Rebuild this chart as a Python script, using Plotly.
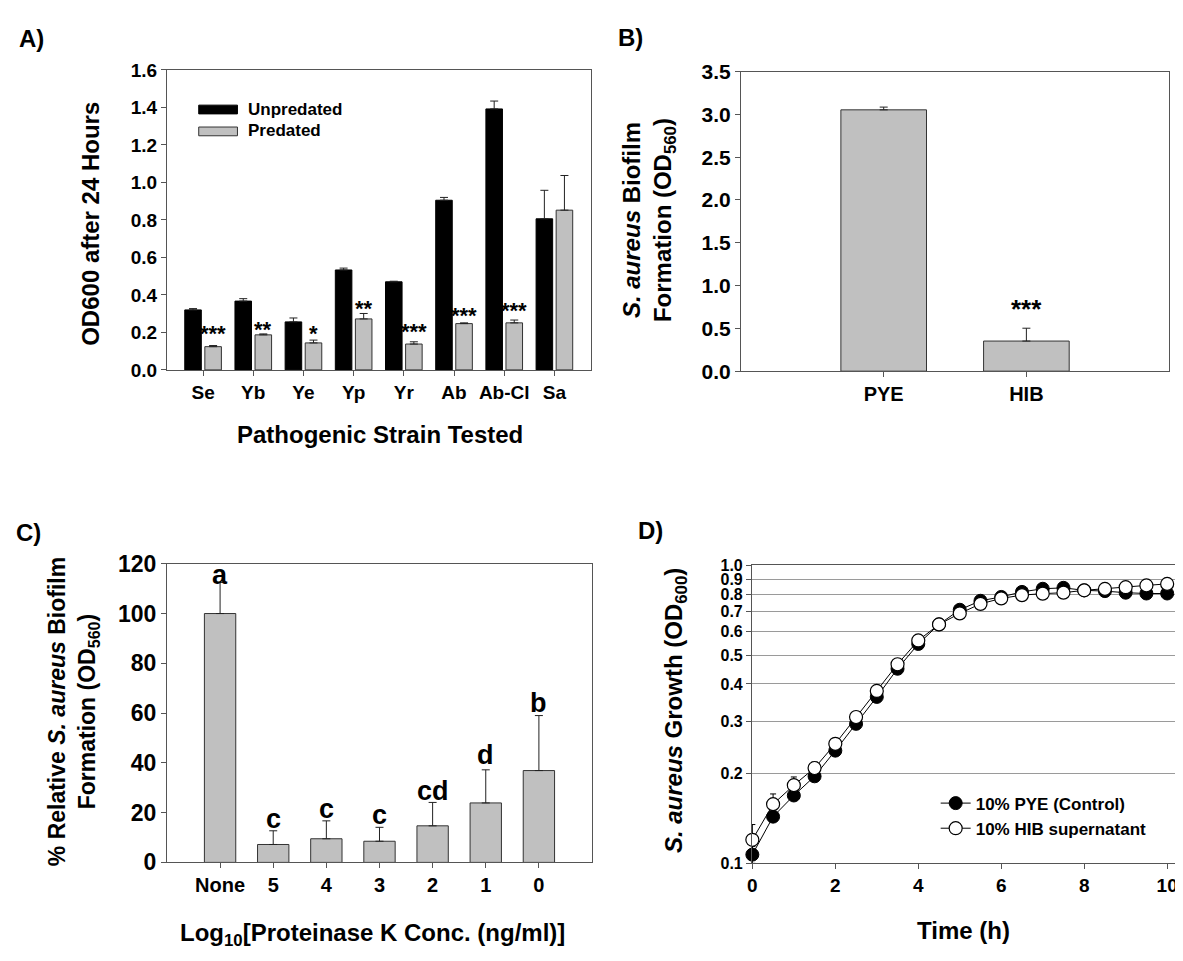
import plotly.graph_objects as go

# The page body has an 8px default margin, so the figure is drawn 8px in from the
# window's top-left corner; sizes and positions below are set in window pixels.
OFF = 8
W, H = 1183 - OFF, 961 - OFF
FONT = "Liberation Sans, Arial, Helvetica, sans-serif"
NARROW = "Liberation Sans Narrow, Arial Narrow, Liberation Sans, Arial, sans-serif"

# ---------------- Panel A data ----------------
strains = ["Se", "Yb", "Ye", "Yp", "Yr", "Ab", "Ab-Cl", "Sa"]
unpredated = [0.320, 0.367, 0.256, 0.533, 0.470, 0.905, 1.392, 0.806]
unpredated_err = [0.007, 0.013, 0.021, 0.010, 0.003, 0.015, 0.042, 0.152]
predated = [0.124, 0.187, 0.144, 0.272, 0.138, 0.247, 0.251, 0.852]
predated_err = [0.006, 0.005, 0.015, 0.029, 0.012, 0.004, 0.015, 0.185]
stars_a = ["***", "**", "*", "**", "***", "***", "***"]
stars_a_y = [0.216, 0.237, 0.216, 0.349, 0.228, 0.311, 0.337]

# ---------------- Panel B data ----------------
media = ["PYE", "HIB"]
biofilm_b = [3.053, 0.352]
biofilm_b_err = [0.032, 0.150]
stars_b = ["", "***"]
stars_b_y = [None, 0.79]

# ---------------- Panel C data ----------------
protk = ["None", "5", "4", "3", "2", "1", "0"]
rel_biofilm = [100.0, 7.2, 9.5, 8.5, 14.7, 23.9, 36.9]
rel_biofilm_err = [12.5, 5.5, 7.2, 5.6, 9.4, 13.3, 22.1]
letters_c = ["a", "c", "c", "c", "cd", "d", "b"]
letters_c_y = [115.4, 17.6, 21.5, 18.9, 28.7, 43.0, 63.9]

# ---------------- Panel D data ----------------
time_h = [0, 0.5, 1, 1.5, 2, 2.5, 3, 3.5, 4, 4.5, 5, 5.5, 6, 6.5, 7, 7.5, 8, 8.5, 9, 9.5, 10]
pye_od = [0.107, 0.1435, 0.169, 0.196, 0.239, 0.294, 0.362, 0.450, 0.545, 0.634, 0.710,
          0.761, 0.784, 0.815, 0.835, 0.841, 0.825, 0.820, 0.810, 0.805, 0.805]
pye_err = [0.007, 0.004, 0.004, 0.004, 0.004, 0.005, 0.005, 0.006, 0.006, 0.006, 0.006,
           0.006, 0.006, 0.006, 0.006, 0.006, 0.006, 0.006, 0.006, 0.006, 0.006]
hib_od = [0.120, 0.158, 0.183, 0.209, 0.252, 0.310, 0.379, 0.466, 0.560, 0.634, 0.690,
          0.743, 0.775, 0.795, 0.804, 0.810, 0.825, 0.834, 0.845, 0.857, 0.867]
hib_err = [0.015, 0.013, 0.012, 0.010, 0.006, 0.006, 0.006, 0.006, 0.006, 0.006, 0.006,
           0.006, 0.006, 0.006, 0.006, 0.006, 0.006, 0.006, 0.006, 0.006, 0.006]
d_ticks = [0.1, 0.2, 0.3, 0.4, 0.5, 0.6, 0.7, 0.8, 0.9, 1.0]
d_ticktext = ["0.1", "0.2", "0.3", "0.4", "0.5", "0.6", "0.7", "0.8", "0.9", "1.0"]

GREY = "#c0c0c0"
EDGE = "#333333"
AX = "#555555"


def px(xp):
    return (xp - OFF) / W


def py(yp):
    return 1 - (yp - OFF) / H


def bfont(size, family=FONT, color="black"):
    return dict(family=family, size=size, color=color, weight="bold")


fig = go.Figure()

# ---- Panel A bars ----
xa = list(range(len(strains)))
fig.add_trace(go.Bar(
    x=xa, y=unpredated, width=0.33, offset=-0.365,
    marker=dict(color="black", line=dict(color="black", width=1)),
    error_y=dict(type="data", array=unpredated_err, arrayminus=[0] * len(xa), symmetric=False,
                 color="#222", thickness=1, width=4),
    xaxis="x", yaxis="y", showlegend=False, name="Unpredated"))
fig.add_trace(go.Bar(
    x=xa, y=predated, width=0.33, offset=0.035,
    marker=dict(color=GREY, line=dict(color=EDGE, width=1)),
    error_y=dict(type="data", array=predated_err, arrayminus=[0] * len(xa), symmetric=False,
                 color="#222", thickness=1, width=4),
    xaxis="x", yaxis="y", showlegend=False, name="Predated"))

# ---- Panel B bars ----
xb = list(range(len(media)))
fig.add_trace(go.Bar(
    x=xb, y=biofilm_b, width=0.6,
    marker=dict(color=GREY, line=dict(color=EDGE, width=1)),
    error_y=dict(type="data", array=biofilm_b_err, arrayminus=[0] * len(xb), symmetric=False,
                 color="#222", thickness=1, width=4),
    xaxis="x2", yaxis="y2", showlegend=False))

# ---- Panel C bars ----
xc = list(range(len(protk)))
fig.add_trace(go.Bar(
    x=xc, y=rel_biofilm, width=0.59,
    marker=dict(color=GREY, line=dict(color=EDGE, width=1)),
    error_y=dict(type="data", array=rel_biofilm_err, arrayminus=[0] * len(xc), symmetric=False,
                 color="#222", thickness=1, width=4),
    xaxis="x3", yaxis="y3", showlegend=False))

# ---- Panel D growth curves ----
fig.add_trace(go.Scatter(
    x=time_h, y=pye_od, mode="lines+markers", name="10% PYE (Control)",
    line=dict(color="black", width=1),
    marker=dict(symbol="circle", size=13, color="black", line=dict(color="black", width=1)),
    error_y=dict(type="data", array=pye_err, color="black", thickness=1, width=3),
    xaxis="x4", yaxis="y4", cliponaxis=False))
fig.add_trace(go.Scatter(
    x=time_h, y=hib_od, mode="lines+markers", name="10% HIB supernatant",
    line=dict(color="black", width=1),
    marker=dict(symbol="circle", size=13, color="white", line=dict(color="black", width=1.2)),
    error_y=dict(type="data", array=hib_err, color="black", thickness=1, width=3),
    xaxis="x4", yaxis="y4", cliponaxis=False))

common = dict(showline=True, linecolor=AX, linewidth=1, mirror=True, ticks="outside",
              ticklen=5, tickcolor=AX, showgrid=False, zeroline=False)

fig.update_layout(
    width=W, height=H, margin=dict(l=0, r=0, t=0, b=0),
    paper_bgcolor="white", plot_bgcolor="white", barmode="overlay",
    font=dict(family=FONT, color="black"),
    xaxis=dict(domain=[px(163), px(590)], range=[-0.72, 7.73], tickvals=xa, ticktext=strains,
               tickfont=bfont(19), anchor="y", **common),
    yaxis=dict(domain=[py(366.7), py(58.3)], range=[0, 1.6], dtick=0.2, tickformat=".1f",
               tickfont=bfont(19), anchor="x", **common),
    xaxis2=dict(domain=[px(741), px(1172)], range=[-1, 2], tickvals=xb, ticktext=media,
                tickfont=bfont(20), anchor="y2", **common),
    yaxis2=dict(domain=[py(368), py(60)], range=[0, 3.5], dtick=0.5, tickformat=".1f",
                tickfont=bfont(21), anchor="x2", **common),
    xaxis3=dict(domain=[px(163), px(591)], range=[-1, 7], tickvals=xc, ticktext=protk,
                tickfont=bfont(20), anchor="y3", **common),
    yaxis3=dict(domain=[py(873), py(566)], range=[0, 120], dtick=20,
                tickfont=bfont(23), anchor="x3", **common),
    xaxis4=dict(domain=[px(752), px(1178)], range=[-0.01, 10.19], dtick=2,
                tickfont=bfont(19), anchor="y4", ticklabeloverflow="allow", **common),
    yaxis4=dict(domain=[py(874), py(567.7)], type="log", range=[-1, 0], tickvals=d_ticks,
                ticktext=d_ticktext, tickfont=bfont(16, NARROW), anchor="x4",
                showline=True, linecolor=AX, linewidth=1, mirror=True, ticks="outside",
                ticklen=5, tickcolor=AX, zeroline=False, showgrid=True,
                gridcolor="#9a9a9a", gridwidth=1),
    legend=dict(x=px(937), y=py(794), xanchor="left", yanchor="top",
                bgcolor="rgba(0,0,0,0)", font=bfont(17), tracegroupgap=0),
)

ann = []
# panel labels
for lab, xx, yy in [("A)", 12, 26), ("B)", 615, 25), ("C)", 9, 534), ("D)", 635, 532)]:
    ann.append(dict(text=lab, x=px(xx), y=py(yy), xref="paper", yref="paper",
                    xanchor="left", yanchor="middle", showarrow=False, font=bfont(24)))

# axis titles
titles = [
    ("OD600 after 24 Hours", 86, 216, -90, 24),
    ("Pathogenic Strain Tested", 378, 433, 0, 24),
    ("<i>S. aureus</i> Biofilm<br>Formation (OD<sub>560</sub>)", 649, 213, -90, 24),
    ("% Relative <i>S. aureus</i> Biofilm<br>Formation (OD<sub>560</sub>)", 69, 718, -90, 23),
    ("Log<sub>10</sub>[Proteinase K Conc. (ng/ml)]", 370, 947, 0, 24),
    ("<i>S. aureus</i> Growth (OD<sub>600</sub>)", 675, 717, -90, 24),
    ("Time (h)", 965, 943, 0, 24),
]
for t, xx, yy, ang, fs in titles:
    ann.append(dict(text=t, x=px(xx), y=py(yy), xref="paper", yref="paper",
                    xanchor="center", yanchor="middle", textangle=ang, showarrow=False,
                    font=bfont(fs)))

# significance stars panel A (over predated bars)
for i, (s, yv) in enumerate(zip(stars_a, stars_a_y)):
    ann.append(dict(text=s, x=xa[i] + 0.2, y=yv, xref="x", yref="y", showarrow=False,
                    xanchor="center", yanchor="middle", yshift=-4, font=bfont(22)))
# stars panel B
for i, (s, yv) in enumerate(zip(stars_b, stars_b_y)):
    if s:
        ann.append(dict(text=s, x=xb[i], y=yv, xref="x2", yref="y2", showarrow=False,
                        xanchor="center", yanchor="middle", yshift=-5, font=bfont(26)))
# letters panel C
for i, (s, yv) in enumerate(zip(letters_c, letters_c_y)):
    ann.append(dict(text=s, x=xc[i], y=yv, xref="x3", yref="y3", showarrow=False,
                    xanchor="center", yanchor="middle", font=bfont(27)))

# manual legend for panel A
ann.append(dict(text="Unpredated", x=px(243), y=py(99), xref="paper", yref="paper",
                xanchor="left", yanchor="middle", showarrow=False, font=bfont(17)))
ann.append(dict(text="Predated", x=px(243), y=py(121), xref="paper", yref="paper",
                xanchor="left", yanchor="middle", showarrow=False, font=bfont(17)))
shapes = [
    dict(type="rect", xref="paper", yref="paper", x0=px(195), x1=px(234), y0=py(103.5),
         y1=py(94.5), fillcolor="black", line=dict(color="black", width=1)),
    dict(type="rect", xref="paper", yref="paper", x0=px(195), x1=px(234), y0=py(126),
         y1=py(117), fillcolor=GREY, line=dict(color=EDGE, width=1)),
]

fig.update_layout(annotations=ann, shapes=shapes)
fig.write_html("out.html")
